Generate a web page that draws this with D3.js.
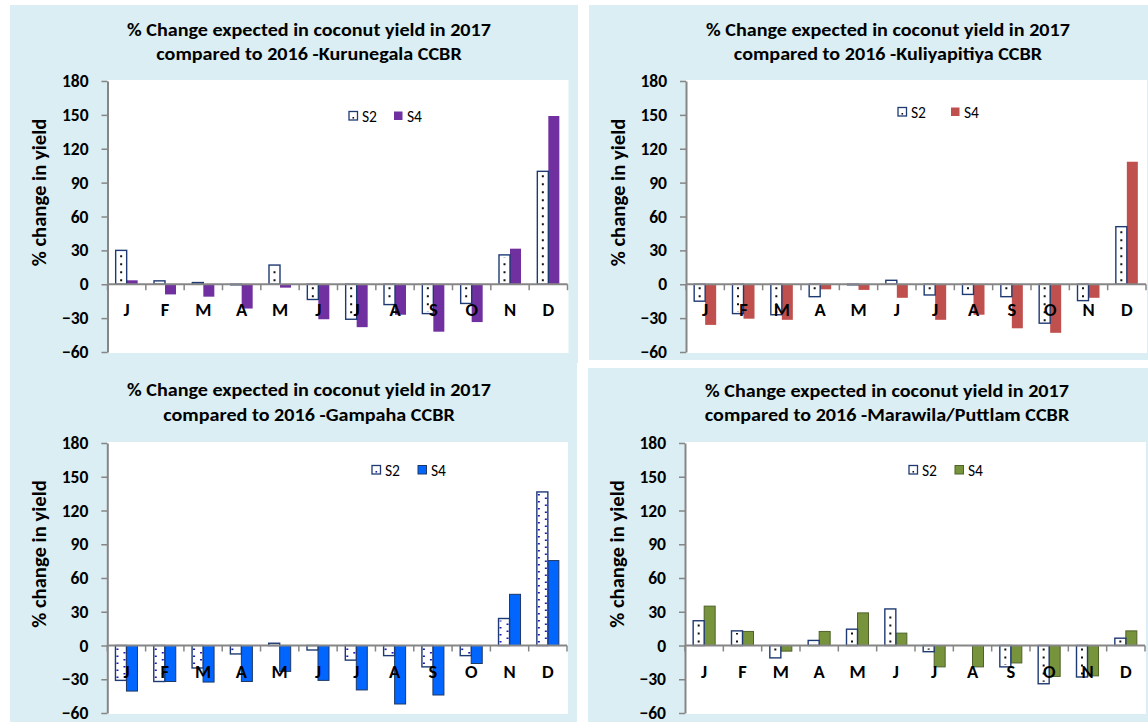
<!DOCTYPE html>
<html>
<head>
<meta charset="utf-8">
<script src="https://cdn.jsdelivr.net/npm/d3@7"></script>
<style>
  body { margin: 0; background: #fff; }
  svg { display: block; }
  text { font-family: Carlito, Lato, "Open Sans", sans-serif; }
</style>
</head>
<body>
<svg id="chart" width="1148" height="722"></svg>
<script>
// month initials on the category axis
const months = ["J", "F", "M", "A", "M", "J", "J", "A", "S", "O", "N", "D"];
const yTicks = [-60, -30, 0, 30, 60, 90, 120, 150, 180];
const seriesNames = ["S2", "S4"];
const regions = ["Kurunegala", "Kuliyapitiya", "Gampaha", "Marawila/Puttlam"];

// % change in yield
const kurunegalaS2 = [30, 3, 1.5, -0.5, 17, -13.5, -31, -18, -26, -17, 26, 100];
const kurunegalaS4 = [3.5, -9, -11, -21.5, -3, -31, -38, -27, -42, -33.5, 31.5, 149];
const kuliyapitiyaS2 = [-15, -26, -27, -11, -0.5, 3.5, -9.5, -9, -11, -34.5, -14.5, 51];
const kuliyapitiyaS4 = [-36, -30.5, -31.5, -4.5, -5, -12, -31.5, -27, -39, -43, -12, 108.5];
const gampahaS2 = [-31, -32, -20, -7.5, 2, -4, -13, -9, -19, -9, 24, 136.5];
const gampahaS4 = [-40.5, -32, -32.5, -32, -23, -31, -39.5, -52, -44, -16, 45.5, 75.5];
const marawilaS2 = [22, 13, -11, 4.5, 14.5, 32.5, -5.5, 0, -19, -34, -28, 6.5];
const marawilaS4 = [35, 12.5, -5, 12.5, 29, 11, -19, -19, -15.5, -27.5, -27, 13];

const panels = [
  {region: regions[0], s2: kurunegalaS2, s4: kurunegalaS4, fill: "#7030A0", edge: "none",
   bg: [10, 5, 568, 358], plot: [107.5, 567.5, 81, 352], titleX: 309, titleY: 35.5,
   legend: [349, 116, 45], dot: "#111", twoCols: false},
  {region: regions[1], s2: kuliyapitiyaS2, s4: kuliyapitiyaS4, fill: "#C0504D", edge: "none",
   bg: [589, 5, 559, 355], plot: [686, 1146, 81, 352], titleX: 888, titleY: 35.5,
   legend: [898, 112, 53], dot: "#111", twoCols: false},
  {region: regions[2], s2: gampahaS2, s4: gampahaS4, fill: "#0066FF", edge: "#1F3864",
   bg: [10, 363, 567, 359], plot: [107.3, 567, 443, 713], titleX: 309, titleY: 396,
   legend: [372, 470, 46], dot: "#1a1ab0", twoCols: true},
  {region: regions[3], s2: marawilaS2, s4: marawilaS4, fill: "#77933C", edge: "#4F6228",
   bg: [588, 368, 560, 354], plot: [685, 1145, 443, 713], titleX: 887, titleY: 396.5,
   legend: [909, 470, 46], dot: "#111", twoCols: false}
];

const svg = d3.select("#chart");
const axisGrey = "#868686";
const s2Edge = "#1F3A73";
let squeeze = null;  // Calibri is narrower than the fallback font

function fit(sel) {
  const len = sel.node().getComputedTextLength();
  sel.attr("textLength", len * squeeze).attr("lengthAdjust", "spacingAndGlyphs");
}

panels.forEach(p => {
  const g = svg.append("g");
  const [bx, by, bw, bh] = p.bg;
  const [x0, x1, yTop, yBot] = p.plot;

  g.append("rect").attr("x", bx).attr("y", by).attr("width", bw).attr("height", bh)
    .attr("fill", "#DAEEF3");
  g.append("rect").attr("x", x0).attr("y", yTop - 1).attr("width", x1 - x0 + 1).attr("height", yBot - yTop + 2)
    .attr("fill", "#fff");

  // title, two lines
  const lines = ["% Change expected in coconut yield in 2017", "compared to 2016 -" + p.region + " CCBR"];
  lines.forEach((t, i) => {
    const tt = g.append("text").attr("x", p.titleX).attr("y", p.titleY + i * 24.5)
      .attr("text-anchor", "middle").attr("font-size", 19).attr("font-weight", "bold").text(t);
    if (squeeze === null) squeeze = 364 / tt.node().getComputedTextLength();
    fit(tt);
  });

  const y = d3.scaleLinear().domain([-60, 180]).range([yBot, yTop]);
  const x = d3.scaleBand().domain(d3.range(months.length)).range([x0, x1]).paddingInner(0);
  const bw2 = 11;

  // y axis
  const ya = g.append("g").attr("transform", `translate(${x0},0)`)
    .call(d3.axisLeft(y).tickValues(yTicks).tickSize(6).tickSizeOuter(0).tickPadding(13));
  ya.select(".domain").attr("stroke", axisGrey).attr("stroke-width", 2);
  ya.selectAll(".tick line").attr("stroke", axisGrey).attr("stroke-width", 1.5);
  ya.selectAll(".tick text").attr("font-size", 17.5).attr("font-weight", "bold")
    .attr("fill", "#000").attr("font-family", 'Carlito, Lato, "Open Sans", sans-serif');

  const yl = g.append("text")
    .attr("transform", `translate(${bx + 29},${(yTop + yBot) / 2 - 24}) rotate(-90)`)
    .attr("text-anchor", "middle").attr("dy", "0.35em")
    .attr("font-size", 19.5).attr("font-weight", "bold").text("% change in yield");
  fit(yl);

  // bars
  const cx = i => x(i) + x.bandwidth() / 2;
  g.selectAll(".s4").data(p.s4).join("rect")
    .attr("x", (d, i) => cx(i))
    .attr("y", d => y(Math.max(0, d)))
    .attr("width", bw2)
    .attr("height", d => Math.abs(y(d) - y(0)))
    .attr("fill", p.fill)
    .attr("stroke", p.edge).attr("stroke-width", 1);

  g.selectAll(".s2").data(p.s2).join("rect")
    .attr("x", (d, i) => cx(i) - bw2)
    .attr("y", d => y(Math.max(0, d)))
    .attr("width", bw2)
    .attr("height", d => Math.abs(y(d) - y(0)))
    .attr("fill", "#fff")
    .attr("stroke", s2Edge).attr("stroke-width", 1.4);

  // dotted pattern inside S2 bars
  const cols = p.twoCols ? [{dx: -3.5, off: 0}, {dx: 3.5, off: 3.5}] : [{dx: 0, off: 0}];
  cols.forEach(c => {
    g.selectAll(null).data(p.s2.map((v, i) => ({v, i})).filter(d => Math.abs(y(d.v) - y(0)) > 5)).join("line")
      .attr("x1", d => cx(d.i) - bw2 / 2 + c.dx).attr("x2", d => cx(d.i) - bw2 / 2 + c.dx)
      .attr("y1", d => y(0) + (d.v > 0 ? -3 : 3))
      .attr("y2", d => y(d.v) + (d.v > 0 ? 2 : -2))
      .attr("stroke", p.dot).attr("stroke-width", 2)
      .attr("stroke-dasharray", p.twoCols ? "1.6 5.4" : "2 6")
      .attr("stroke-dashoffset", c.off);
  });

  // category axis at zero
  g.append("line").attr("x1", x0).attr("x2", x1).attr("y1", y(0)).attr("y2", y(0))
    .attr("stroke", axisGrey).attr("stroke-width", 2);
  g.selectAll(null).data(d3.range(months.length + 1)).join("line")
    .attr("x1", i => x0 + i * x.bandwidth()).attr("x2", i => x0 + i * x.bandwidth())
    .attr("y1", y(0)).attr("y2", y(0) + 6)
    .attr("stroke", axisGrey).attr("stroke-width", 1.5);
  g.selectAll(null).data(months).join("text")
    .attr("x", (d, i) => cx(i)).attr("y", y(0) + 32)
    .attr("text-anchor", "middle").attr("font-size", 18.5).attr("font-weight", "bold")
    .text(d => d);

  // legend
  const [lx, ly, lgap] = p.legend;
  seriesNames.forEach((s, k) => {
    const ox = lx + k * lgap;
    g.append("rect").attr("x", ox).attr("y", ly - 4.5).attr("width", 8.5).attr("height", 8.5)
      .attr("fill", k === 0 ? "#fff" : p.fill)
      .attr("stroke", k === 0 ? s2Edge : p.edge).attr("stroke-width", k === 0 ? 1.3 : 1);
    if (k === 0) g.append("rect").attr("x", ox + 3.5).attr("y", ly + 1).attr("width", 1.6).attr("height", 1.6)
      .attr("fill", p.dot);
    g.append("text").attr("x", ox + 13).attr("y", ly + 5.5).attr("font-size", 15.5).text(s);
  });
});
</script>
</body>
</html>
